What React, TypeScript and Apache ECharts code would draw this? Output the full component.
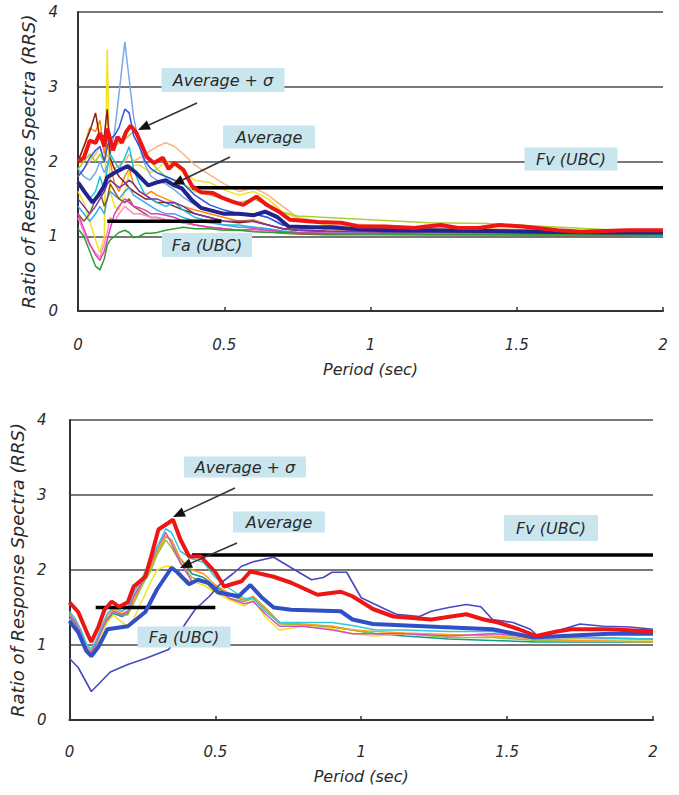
import React, { useEffect, useRef } from "react";
import * as echarts from "echarts";

// ---------- axis ticks ----------
const X_MIN = 0, X_MAX = 2, X_STEP = 0.5;
const Y_MIN = 0, Y_MAX = 4, Y_STEP = 1;

// ---------- TOP CHART ----------
const TOP_X = [0, 0.02, 0.04, 0.06, 0.075, 0.09, 0.1, 0.11, 0.125, 0.14, 0.16, 0.175, 0.19, 0.21, 0.23, 0.25, 0.27, 0.3, 0.33, 0.36, 0.4, 0.45, 0.5, 0.55, 0.6, 0.65, 0.7, 0.75, 0.85, 1.0, 1.2, 1.4, 1.6, 1.8, 2.0];
const TOP_YELLOW = [1.6, 1.45, 1.2, 0.95, 0.78, 1.0, 3.5, 1.6, 1.4, 1.35, 1.6, 1.85, 1.95, 1.95, 1.9, 1.85, 1.9, 2.0, 1.95, 1.85, 1.75, 1.72, 1.62, 1.55, 1.6, 1.5, 1.32, 1.24, 1.15, 1.12, 1.1, 1.08, 1.06, 1.05, 1.05];
const TOP_LIGHTBLUE = [1.9, 1.8, 1.75, 1.85, 2.0, 1.85, 1.95, 2.1, 2.4, 2.9, 3.6, 3.1, 2.6, 2.2, 1.95, 1.8, 1.75, 1.7, 1.62, 1.52, 1.42, 1.36, 1.3, 1.28, 1.3, 1.25, 1.15, 1.12, 1.1, 1.08, 1.07, 1.06, 1.05, 1.05, 1.04];
const TOP_BLUE = [1.8, 1.9, 2.05, 2.15, 2.2, 2.0, 2.2, 2.3, 2.35, 2.45, 2.7, 2.65, 2.35, 2.2, 2.0, 1.9, 1.85, 1.8, 1.75, 1.7, 1.55, 1.42, 1.35, 1.3, 1.3, 1.25, 1.15, 1.12, 1.1, 1.1, 1.08, 1.07, 1.05, 1.05, 1.05];
const TOP_MAROON = [2.0, 2.2, 2.4, 2.65, 2.3, 2.35, 2.7, 2.05, 1.9, 1.8, 1.72, 1.65, 1.6, 1.55, 1.5, 1.5, 1.45, 1.45, 1.4, 1.35, 1.3, 1.25, 1.2, 1.18, 1.2, 1.15, 1.1, 1.08, 1.06, 1.05, 1.04, 1.03, 1.02, 1.02, 1.02];
const TOP_ORANGE = [2.0, 2.2, 2.45, 2.4, 2.55, 2.1, 2.35, 2.0, 1.7, 1.6, 1.8, 1.9, 1.7, 1.6, 1.55, 1.6, 1.55, 1.5, 1.45, 1.4, 1.35, 1.3, 1.25, 1.2, 1.22, 1.15, 1.1, 1.09, 1.07, 1.06, 1.05, 1.05, 1.04, 1.04, 1.04];
const TOP_GREEN = [1.1, 1.0, 0.8, 0.6, 0.55, 0.7, 0.88, 0.95, 1.0, 1.05, 1.08, 1.05, 0.98, 1.0, 1.04, 1.04, 1.05, 1.08, 1.1, 1.12, 1.1, 1.1, 1.08, 1.08, 1.06, 1.05, 1.05, 1.04, 1.03, 1.03, 1.02, 1.02, 1.02, 1.02, 1.02];
const TOP_MAGENTA = [1.3, 1.1, 0.9, 0.75, 0.68, 0.8, 0.95, 1.1, 1.3, 1.4, 1.5, 1.45, 1.4, 1.38, 1.35, 1.3, 1.3, 1.28, 1.25, 1.2, 1.15, 1.12, 1.1, 1.08, 1.1, 1.08, 1.06, 1.05, 1.04, 1.04, 1.03, 1.03, 1.02, 1.02, 1.02];
const TOP_PINK = [1.25, 1.05, 0.88, 0.78, 0.72, 0.9, 1.05, 1.25, 1.2, 1.3, 1.4, 1.35, 1.3, 1.3, 1.28, 1.25, 1.25, 1.22, 1.2, 1.18, 1.15, 1.12, 1.1, 1.08, 1.08, 1.06, 1.05, 1.04, 1.04, 1.03, 1.03, 1.02, 1.02, 1.02, 1.02];
const TOP_CYAN = [1.7, 1.6, 1.5, 1.6, 1.8, 1.6, 1.9, 2.1, 2.0, 1.9, 2.05, 2.2, 1.9, 1.7, 1.55, 1.5, 1.45, 1.4, 1.45, 1.35, 1.25, 1.2, 1.15, 1.15, 1.12, 1.1, 1.06, 1.05, 1.04, 1.04, 1.03, 1.03, 1.03, 1.02, 1.0];
const TOP_LIME = [1.9, 2.0, 2.1, 2.0, 2.1, 2.0, 2.2, 2.3, 2.2, 2.25, 2.3, 2.35, 2.4, 2.3, 2.15, 2.0, 1.9, 1.8, 1.75, 1.7, 1.6, 1.55, 1.5, 1.45, 1.5, 1.42, 1.32, 1.27, 1.25, 1.22, 1.18, 1.17, 1.13, 1.09, 1.08];
const TOP_PEACH = [1.8, 1.9, 2.0, 2.1, 2.2, 2.0, 2.1, 2.0, 1.9, 1.95, 2.0, 2.1, 2.0, 2.05, 2.1, 2.15, 2.2, 2.25, 2.2, 2.1, 1.95, 1.82, 1.7, 1.6, 1.65, 1.55, 1.4, 1.25, 1.18, 1.15, 1.12, 1.1, 1.08, 1.07, 1.06];
const TOP_PURPLE = [1.5, 1.4, 1.3, 1.4, 1.5, 1.6, 1.7, 1.75, 1.7, 1.65, 1.7, 1.75, 1.7, 1.6, 1.55, 1.5, 1.5, 1.45, 1.45, 1.4, 1.3, 1.25, 1.2, 1.2, 1.2, 1.15, 1.1, 1.08, 1.07, 1.06, 1.05, 1.05, 1.04, 1.03, 1.03];
const TOP_SKY = [1.4, 1.3, 1.2, 1.3, 1.4, 1.3, 1.5, 1.6, 1.55, 1.5, 1.6, 1.65, 1.55, 1.5, 1.45, 1.4, 1.35, 1.3, 1.3, 1.25, 1.2, 1.18, 1.15, 1.12, 1.12, 1.1, 1.07, 1.05, 1.05, 1.04, 1.03, 1.02, 1.02, 1.02, 1.03];
const TOP_BROWN = [1.3, 1.2, 1.3, 1.5, 1.6, 1.4, 1.5, 1.7, 1.6, 1.5, 1.45, 1.5, 1.4, 1.35, 1.3, 1.25, 1.25, 1.22, 1.2, 1.18, 1.15, 1.12, 1.1, 1.08, 1.08, 1.06, 1.04, 1.03, 1.02, 1.02, 1.02, 1.02, 1.01, 1.01, 1.01];

const TOP_SIGMA_X = [0, 0.02, 0.04, 0.06, 0.075, 0.09, 0.1, 0.12, 0.135, 0.15, 0.165, 0.18, 0.2, 0.22, 0.235, 0.26, 0.29, 0.31, 0.33, 0.36, 0.39, 0.42, 0.46, 0.49, 0.53, 0.565, 0.61, 0.645, 0.69, 0.725, 0.82, 0.9, 0.96, 1.05, 1.15, 1.19, 1.24, 1.3, 1.37, 1.44, 1.52, 1.64, 1.72, 1.88, 2.0];
const TOP_SIGMA_Y = [2.0, 2.05, 2.28, 2.25, 2.38, 2.2, 2.44, 2.15, 2.33, 2.25, 2.4, 2.48, 2.38, 2.2, 2.06, 1.98, 2.05, 1.9, 1.98, 1.89, 1.67, 1.59, 1.58, 1.52, 1.46, 1.42, 1.53, 1.42, 1.32, 1.22, 1.19, 1.18, 1.13, 1.13, 1.11, 1.13, 1.15, 1.11, 1.11, 1.15, 1.13, 1.08, 1.06, 1.08, 1.08];
const TOP_AVG_X = [0, 0.025, 0.05, 0.07, 0.09, 0.1, 0.125, 0.15, 0.17, 0.195, 0.22, 0.24, 0.27, 0.3, 0.33, 0.355, 0.39, 0.42, 0.46, 0.5, 0.55, 0.6, 0.64, 0.68, 0.72, 0.8, 0.87, 0.93, 1.05, 1.2, 1.4, 1.6, 1.8, 2.0];
const TOP_AVG_Y = [1.72, 1.58, 1.45, 1.55, 1.68, 1.79, 1.85, 1.9, 1.94, 1.86, 1.76, 1.68, 1.72, 1.75, 1.68, 1.64, 1.48, 1.38, 1.34, 1.3, 1.3, 1.28, 1.33, 1.26, 1.13, 1.12, 1.12, 1.1, 1.08, 1.08, 1.07, 1.06, 1.05, 1.05];

const TOP_FA_X = [0.1, 0.49];
const TOP_FA_Y = [1.2, 1.2];
const TOP_FV_X = [0.39, 2.0];
const TOP_FV_Y = [1.65, 1.65];

// ---------- BOTTOM CHART ----------
const BOT_X = [0, 0.02, 0.04, 0.06, 0.075, 0.09, 0.11, 0.13, 0.15, 0.18, 0.2, 0.22, 0.25, 0.28, 0.3, 0.33, 0.35, 0.38, 0.42, 0.46, 0.5, 0.55, 0.6, 0.63, 0.67, 0.72, 0.8, 0.9, 0.97, 1.05, 1.15, 1.3, 1.45, 1.6, 1.75, 2.0];
const BOT_CYAN = [1.45, 1.35, 1.2, 1.0, 0.95, 1.05, 1.25, 1.42, 1.5, 1.45, 1.5, 1.7, 1.9, 2.15, 2.3, 2.55, 2.5, 2.25, 2.15, 2.1, 1.9, 1.75, 1.62, 1.62, 1.45, 1.3, 1.3, 1.3, 1.26, 1.2, 1.2, 1.18, 1.18, 1.1, 1.1, 1.08];
const BOT_MAGENTA = [1.4, 1.3, 1.15, 0.95, 0.9, 1.0, 1.2, 1.35, 1.45, 1.4, 1.45, 1.65, 1.85, 2.1, 2.3, 2.5, 2.35, 2.1, 1.85, 1.85, 1.75, 1.62, 1.55, 1.58, 1.42, 1.25, 1.25, 1.2, 1.15, 1.15, 1.15, 1.12, 1.15, 1.1, 1.1, 1.08];
const BOT_YELLOW = [1.35, 1.25, 1.1, 0.9, 0.85, 0.95, 1.15, 1.3, 1.4, 1.3, 1.25, 1.35, 1.6, 1.85, 2.0, 2.05, 2.05, 1.9, 1.85, 1.8, 1.7, 1.6, 1.52, 1.6, 1.38, 1.2, 1.25, 1.22, 1.15, 1.12, 1.15, 1.12, 1.15, 1.12, 1.08, 1.07];
const BOT_GREEN = [1.4, 1.3, 1.15, 0.95, 0.88, 0.98, 1.2, 1.35, 1.45, 1.4, 1.4, 1.55, 1.8, 2.0, 2.2, 2.4, 2.3, 2.1, 1.9, 1.85, 1.75, 1.62, 1.58, 1.62, 1.48, 1.28, 1.27, 1.25, 1.2, 1.15, 1.15, 1.1, 1.1, 1.06, 1.05, 1.05];
const BOT_ORANGE = [1.42, 1.32, 1.18, 0.98, 0.92, 1.02, 1.22, 1.4, 1.48, 1.42, 1.45, 1.6, 1.85, 2.05, 2.25, 2.45, 2.4, 2.15, 2.0, 1.95, 1.8, 1.68, 1.6, 1.65, 1.5, 1.3, 1.28, 1.25, 1.2, 1.18, 1.16, 1.14, 1.12, 1.08, 1.06, 1.04];
const BOT_TEAL = [1.38, 1.28, 1.12, 0.92, 0.87, 0.97, 1.18, 1.33, 1.42, 1.38, 1.42, 1.6, 1.82, 2.05, 2.25, 2.45, 2.4, 2.15, 1.95, 1.9, 1.78, 1.66, 1.6, 1.64, 1.5, 1.3, 1.27, 1.24, 1.2, 1.15, 1.12, 1.08, 1.06, 1.04, 1.04, 1.04];

const BOT_PURPLE_X = [0, 0.03, 0.075, 0.1, 0.14, 0.2, 0.26, 0.3, 0.34, 0.37, 0.4, 0.43, 0.48, 0.52, 0.56, 0.59, 0.63, 0.7, 0.76, 0.83, 0.87, 0.9, 0.95, 1.0, 1.07, 1.12, 1.2, 1.24, 1.3, 1.36, 1.41, 1.45, 1.52, 1.58, 1.61, 1.69, 1.75, 1.83, 1.92, 2.0];
const BOT_PURPLE_Y = [0.82, 0.7, 0.38, 0.48, 0.64, 0.74, 0.82, 0.88, 0.94, 1.12, 1.3, 1.47, 1.65, 1.83, 1.95, 2.05, 2.11, 2.17, 2.03, 1.87, 1.9, 1.97, 1.97, 1.63, 1.5, 1.41, 1.38, 1.45, 1.5, 1.54, 1.51, 1.34, 1.3, 1.21, 1.1, 1.21, 1.28, 1.25, 1.24, 1.21];

const BOT_SIGMA_X = [0, 0.03, 0.065, 0.075, 0.1, 0.12, 0.145, 0.17, 0.2, 0.22, 0.26, 0.28, 0.305, 0.34, 0.355, 0.38, 0.41, 0.45, 0.5, 0.53, 0.59, 0.62, 0.7, 0.76, 0.85, 0.93, 0.97, 1.04, 1.11, 1.24, 1.36, 1.42, 1.47, 1.54, 1.6, 1.67, 1.72, 1.85, 2.0];
const BOT_SIGMA_Y = [1.57, 1.44, 1.12, 1.04, 1.25, 1.47, 1.58, 1.51, 1.57, 1.78, 1.91, 2.18, 2.54, 2.63, 2.67, 2.41, 2.18, 2.18, 1.97, 1.78, 1.85, 1.98, 1.91, 1.83, 1.67, 1.71, 1.65, 1.48, 1.38, 1.34, 1.41, 1.34, 1.3, 1.21, 1.12, 1.18, 1.21, 1.21, 1.18];
const BOT_AVG_X = [0, 0.03, 0.058, 0.075, 0.1, 0.13, 0.2, 0.26, 0.3, 0.35, 0.37, 0.41, 0.44, 0.475, 0.51, 0.58, 0.62, 0.66, 0.7, 0.76, 0.93, 0.97, 1.04, 1.27, 1.45, 1.59, 1.69, 1.85, 2.0];
const BOT_AVG_Y = [1.32, 1.17, 0.92, 0.85, 0.98, 1.21, 1.25, 1.44, 1.74, 2.03, 1.97, 1.81, 1.87, 1.83, 1.7, 1.65, 1.8, 1.63, 1.5, 1.47, 1.45, 1.34, 1.28, 1.24, 1.21, 1.1, 1.12, 1.15, 1.15];

const BOT_FA_X = [0.09, 0.5];
const BOT_FA_Y = [1.5, 1.5];
const BOT_FV_X = [0.42, 2.0];
const BOT_FV_Y = [2.2, 2.2];

// ---------- texts ----------
const X_NAME = "Period (sec)";
const Y_NAME = "Ratio of Response Spectra (RRS)";
const T_SIGMA = "Average + σ";
const T_AVG = "Average";
const T_FV = "Fv (UBC)";
const T_FA = "Fa (UBC)";

// ---------- styles ----------
const FONT = "DejaVu Sans";
const TXT = "#2a2a2a";
const BOX = "#c9e6ef";
const TOP_THIN = [
  { d: TOP_YELLOW, c: "#f2e21a" },
  { d: TOP_LIGHTBLUE, c: "#78a8f0" },
  { d: TOP_PEACH, c: "#ffb27a" },
  { d: TOP_LIME, c: "#a8d232" },
  { d: TOP_ORANGE, c: "#ff8a00" },
  { d: TOP_MAROON, c: "#8c1c1c" },
  { d: TOP_BLUE, c: "#2f55e0" },
  { d: TOP_CYAN, c: "#1cc4d8" },
  { d: TOP_PURPLE, c: "#7a35a8" },
  { d: TOP_SKY, c: "#3aa8f0" },
  { d: TOP_BROWN, c: "#8b5a2b" },
  { d: TOP_PINK, c: "#ff8ccc" },
  { d: TOP_MAGENTA, c: "#e03cc0" },
  { d: TOP_GREEN, c: "#2ea02e" },
];
const BOT_THIN = [
  { d: BOT_TEAL, c: "#139a8a" },
  { d: BOT_GREEN, c: "#8cc63f" },
  { d: BOT_ORANGE, c: "#ff9a1a" },
  { d: BOT_YELLOW, c: "#f2e21a" },
  { d: BOT_MAGENTA, c: "#d84cc8" },
  { d: BOT_CYAN, c: "#2ccbe0" },
];

const pairs = (xs: number[], ys: number[]) => xs.map((x, i) => [x, ys[i]]);

function line(data: number[][], g: number, color: string, width: number, z = 2) {
  return {
    type: "line",
    xAxisIndex: g,
    yAxisIndex: g,
    data,
    showSymbol: false,
    symbol: "none",
    z,
    lineStyle: { color, width },
    emphasis: { disabled: true },
  };
}

function labelBox(cx: number, cy: number, w: number, h: number, text: string) {
  return [
    { type: "rect", z: 50, shape: { x: cx - w / 2, y: cy - h / 2, width: w, height: h }, style: { fill: BOX } },
    {
      type: "text", z: 51, x: cx, y: cy,
      style: { text, fill: TXT, font: `italic 16px "${FONT}"`, align: "center", verticalAlign: "middle" },
    },
  ];
}

function arrow(x1: number, y1: number, x2: number, y2: number) {
  const dx = x2 - x1, dy = y2 - y1;
  const L = Math.sqrt(dx * dx + dy * dy);
  const ux = dx / L, uy = dy / L;
  const hl = 12, hw = 5;
  const bx = x2 - ux * hl, by = y2 - uy * hl;
  const px = -uy, py = ux;
  return [
    { type: "line", z: 50, shape: { x1, y1, x2: bx, y2: by }, style: { stroke: "#333", lineWidth: 1.5 } },
    {
      type: "polygon", z: 50,
      shape: { points: [[x2, y2], [bx + px * hw, by + py * hw], [bx - px * hw, by - py * hw]] },
      style: { fill: "#111" },
    },
  ];
}

function xAxis(g: number, gap: number, margin: number) {
  return {
    gridIndex: g, type: "value", min: X_MIN, max: X_MAX, interval: X_STEP,
    name: X_NAME, nameLocation: "middle", nameGap: gap,
    nameTextStyle: { fontFamily: FONT, fontStyle: "italic", fontSize: 16, color: TXT },
    axisLine: { show: true, onZero: false, lineStyle: { color: "#333", width: 2 } },
    axisTick: { show: true, inside: true, length: 4, lineStyle: { color: "#333", width: 1.5 } },
    axisLabel: { margin, fontFamily: FONT, fontStyle: "italic", fontSize: 15, color: TXT },
    splitLine: { show: false },
  };
}

function yAxis(g: number, gap: number, margin: number) {
  return {
    gridIndex: g, type: "value", min: Y_MIN, max: Y_MAX, interval: Y_STEP,
    name: Y_NAME, nameLocation: "middle", nameGap: gap, nameRotate: 90,
    nameTextStyle: { fontFamily: FONT, fontStyle: "italic", fontSize: 18, color: TXT },
    axisLine: { show: true, lineStyle: { color: "#333", width: 2 } },
    axisTick: { show: false },
    axisLabel: { margin, fontFamily: FONT, fontStyle: "italic", fontSize: 15, color: TXT },
    splitLine: { show: true, lineStyle: { color: "#4a4a4a", width: 1.6 } },
  };
}

export default function App() {
  const ref = useRef<HTMLDivElement>(null);
  useEffect(() => {
    if (!ref.current) return;
    const chart = echarts.init(ref.current, undefined, { renderer: "svg" });
    const series: any[] = [];
    TOP_THIN.forEach((s) => series.push(line(pairs(TOP_X, s.d), 0, s.c, 1.5)));
    series.push(line(pairs(TOP_FA_X, TOP_FA_Y), 0, "#000", 3.5, 3));
    series.push(line(pairs(TOP_FV_X, TOP_FV_Y), 0, "#000", 3.5, 3));
    series.push(line(pairs(TOP_AVG_X, TOP_AVG_Y), 0, "#23238f", 4, 4));
    series.push(line(pairs(TOP_SIGMA_X, TOP_SIGMA_Y), 0, "#ee1515", 4, 5));

    BOT_THIN.forEach((s) => series.push(line(pairs(BOT_X, s.d), 1, s.c, 1.5)));
    series.push(line(pairs(BOT_PURPLE_X, BOT_PURPLE_Y), 1, "#4848c0", 1.6));
    series.push(line(pairs(BOT_FA_X, BOT_FA_Y), 1, "#000", 3.5, 3));
    series.push(line(pairs(BOT_FV_X, BOT_FV_Y), 1, "#000", 3.5, 3));
    series.push(line(pairs(BOT_AVG_X, BOT_AVG_Y), 1, "#3050c8", 4, 4));
    series.push(line(pairs(BOT_SIGMA_X, BOT_SIGMA_Y), 1, "#ee1515", 4, 5));

    const graphic: any[] = [
      ...labelBox(223, 80, 123, 24, T_SIGMA),
      ...labelBox(269, 137, 92, 23, T_AVG),
      ...labelBox(571, 159, 93, 23, T_FV),
      ...labelBox(207, 245, 90, 24, T_FA),
      ...arrow(197, 103, 138, 130),
      ...arrow(230, 157, 172, 185),
      ...labelBox(245, 467, 122, 21, T_SIGMA),
      ...labelBox(279, 522, 92, 21, T_AVG),
      ...labelBox(551, 528, 94, 26, T_FV),
      ...labelBox(184, 637, 93, 21, T_FA),
      ...arrow(235, 488, 173, 517),
      ...arrow(237, 543, 180, 568),
    ];

    chart.setOption({
      animation: false,
      backgroundColor: "#ffffff",
      grid: [
        { left: 78, top: 12, width: 585, height: 299 },
        { left: 68, top: 420, width: 585, height: 300 },
      ],
      xAxis: [xAxis(0, 50, 26), xAxis(1, 48, 24)],
      yAxis: [yAxis(0, 40, 20), yAxis(1, 36, 23)],
      series,
      graphic,
    });
    return () => chart.dispose();
  }, []);
  return (
    <div
      ref={ref}
      style={{ position: "fixed", left: 0, top: 0, width: 679, height: 795, background: "#fff" }}
    />
  );
}
